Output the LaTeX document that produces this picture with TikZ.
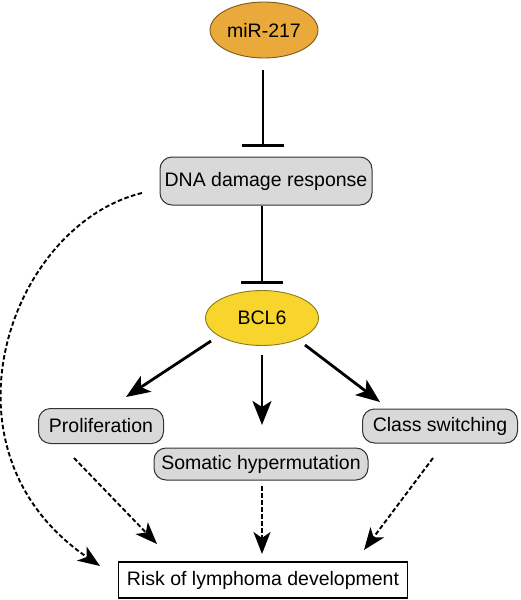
\documentclass[tikz,border=0pt]{standalone}
\usepackage{fontspec}
\setmainfont{Liberation Sans}
\usetikzlibrary{arrows.meta,shapes.geometric}
\definecolor{mirfill}{HTML}{E9A93B}
\definecolor{mirdraw}{HTML}{7A5A18}
\definecolor{bclfill}{HTML}{F8D52C}
\definecolor{bcldraw}{HTML}{8A7A20}
\definecolor{boxfill}{HTML}{D9D9D9}
\definecolor{boxdraw}{HTML}{333333}
\tikzset{
  oval/.style={ellipse, draw, line width=0.9pt, inner sep=0pt},
  pbox/.style={rectangle, rounded corners=12pt, draw=boxdraw, fill=boxfill, line width=1pt, inner sep=0pt},
  rbox/.style={rectangle, draw=black, fill=white, line width=1.4pt, inner sep=0pt},
  inhib/.style={line width=2.8pt, -{Bar[width=42pt, line width=2.8pt]}},
  act/.style={line width=2.8pt, -{Stealth[length=24pt, width=19pt, inset=6pt]}},
  dact/.style={line width=1.9pt, dash pattern=on 4.5pt off 2.5pt, -{Stealth[length=22pt, width=17pt, inset=6pt]}},
  lbl/.style={font=\fontsize{19.5}{22}\selectfont}
}
\begin{document}
\begin{tikzpicture}[x=1pt, y=-1pt]
\useasboundingbox (0,0) rectangle (520,600);
\node[oval, draw=mirdraw, fill=mirfill, minimum width=108pt, minimum height=56pt, lbl] (mir) at (264,30) {miR-217};
\node[pbox, minimum width=212pt, minimum height=48pt, lbl] (dna) at (266,181) {DNA damage response};
\node[oval, draw=bcldraw, fill=bclfill, minimum width=113pt, minimum height=55pt, lbl] (bcl) at (262,318) {BCL6};
\node[pbox, minimum width=125pt, minimum height=35pt, lbl] (pro) at (101,426) {Proliferation};
\node[pbox, minimum width=155pt, minimum height=34pt, lbl] (cls) at (440,426) {Class switching};
\node[pbox, minimum width=214pt, minimum height=32pt, lbl] (som) at (261,464) {Somatic hypermutation};
\node[rbox, minimum width=289pt, minimum height=36pt, lbl] (risk) at (263,580) {Risk of lymphoma development};

\coordinate (m1) at (263,70);
\coordinate (m2) at (263,147);
\draw[inhib] (m1) -- (m2);
\coordinate (d1) at (262,206);
\coordinate (d2) at (262,284);
\draw[inhib] (d1) -- (d2);

\coordinate (b1) at (211,341);
\coordinate (b1e) at (126,397);
\draw[act] (b1) -- (b1e);
\coordinate (b2) at (262,355);
\coordinate (b2e) at (262,425);
\draw[act] (b2) -- (b2e);
\coordinate (b3) at (305,345);
\coordinate (b3e) at (380,402);
\draw[act] (b3) -- (b3e);

\coordinate (p1) at (74,458);
\coordinate (p2) at (157,544);
\draw[dact] (p1) -- (p2);
\coordinate (s1) at (262,486);
\coordinate (s2) at (262,554);
\draw[dact] (s1) -- (s2);
\coordinate (c1) at (433,458);
\coordinate (c2) at (364,550);
\draw[dact] (c1) -- (c2);
\coordinate (cs) at (142,193);
\coordinate (ce) at (100,566);
\draw[dact] (cs) .. controls (10,225) and (-70,450) .. (ce);
\end{tikzpicture}
\end{document}
